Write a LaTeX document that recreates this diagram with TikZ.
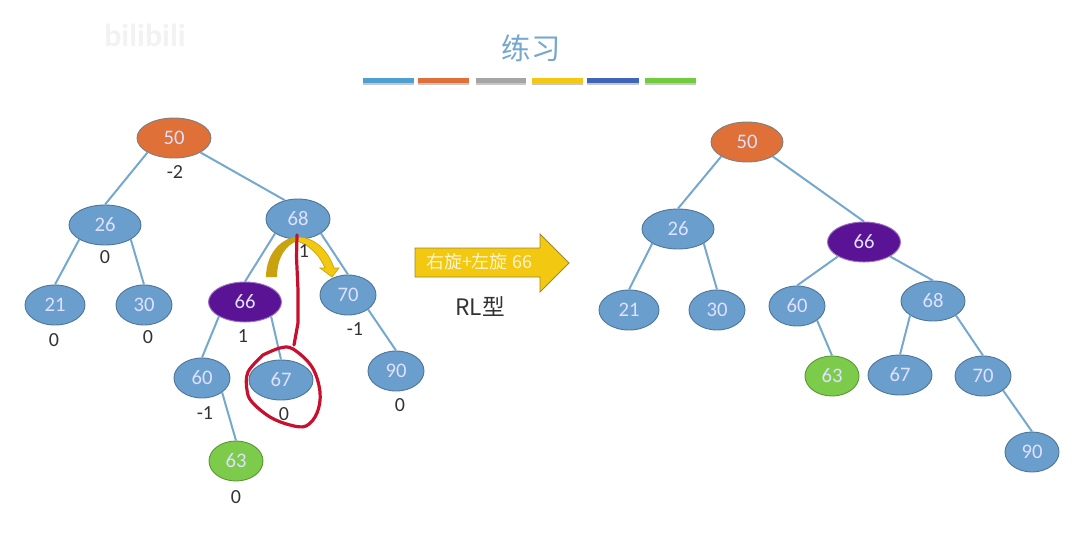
\documentclass[tikz,border=0pt]{standalone}
\usepackage{fontspec}
\setmainfont{Carlito}
\newfontfamily\cjk{Noto Sans CJK SC}
\usetikzlibrary{shapes.geometric}
\definecolor{nodeblue}{HTML}{6A9FCD}
\definecolor{edgeblue}{HTML}{74A8CF}
\definecolor{rootorange}{HTML}{DE7038}
\definecolor{deeppurple}{HTML}{5B1396}
\definecolor{leafgreen}{HTML}{7CCB4A}
\definecolor{gold}{HTML}{F2C811}
\definecolor{darkgold}{HTML}{C9A20F}
\definecolor{inkred}{HTML}{C8102E}
\tikzset{
  x=0.75pt,y=-0.75pt,
  treenode/.style={ellipse,inner sep=0pt,draw=black!25!nodeblue,line width=0.7pt,fill=nodeblue,text=white!88!blue,font=\fontsize{15.5}{15.5}\selectfont},
  orangenode/.style={treenode,fill=rootorange,draw=black!50!white},
  purplenode/.style={treenode,fill=deeppurple,draw=white!40!deeppurple},
  greennode/.style={treenode,fill=leafgreen,draw=black!25!leafgreen},
  edgeline/.style={draw=edgeblue,line width=1.5pt},
  balance/.style={font=\fontsize{15}{15}\selectfont,text=black!80},
  ribbon/.style={line width=3.6pt},
  ribbonshade/.style={line width=2pt,draw=black!22},
  redpen/.style={draw=inkred,line width=2.4pt,line cap=round,line join=round}
}
\newcommand{\tn}[6][treenode]{\node[#1,minimum width=#5*0.75pt,minimum height=#6*0.75pt] (#2) at (#3) {#4};}
\begin{document}
\begin{tikzpicture}
\useasboundingbox (0,0) rectangle (1074,532);
% watermark
\node[text=black!5,font=\bfseries\fontsize{24}{24}\selectfont] (mark) at (145,35) {bilibili};
% title
\node[text=edgeblue,font=\cjk\fontsize{22}{22}\selectfont] (title) at (531,48) {练习};
\foreach \a/\b/\c in {363/414/4F9FCF,418/469/E0703A,476/526/A5A5A5,532/583/F2C811,587/639/3F66B5,645/696/70CC3C}{
  \definecolor{barc}{HTML}{\c}
  \draw[ribbonshade] (\a,83.5) -- (\b,83.5);
  \draw[ribbon,draw=barc] (\a,80.5) -- (\b,80.5);
}
% left tree
\tn[orangenode]{la}{174,138}{50}{74}{40}
\tn{lb}{105,225}{26}{72}{40}
\tn{lc}{298,219}{68}{64}{40}
\tn{ld}{55,305}{21}{60}{40}
\tn{le}{144,305}{30}{56}{40}
\tn[purplenode]{lf}{245,302}{66}{73}{40}
\tn{lg}{348,295}{70}{56}{40}
\tn{lh}{202,378}{60}{56}{40}
\tn{li}{281,380}{67}{64}{40}
\tn{lj}{396,371}{90}{56}{40}
\tn[greennode]{lk}{236,461}{63}{54}{40}
\draw[edgeline] (la.south west) -- (lb.north);
\draw[edgeline] (la.south east) -- (lc.125);
\foreach \p/\q in {lb/ld,lc/lf,lf/lh}{\draw[edgeline] (\p.south west) -- (\q.north);}
\foreach \p/\q in {lb/le,lc/lg,lf/li,lg/lj,lh/lk}{\draw[edgeline] (\p.south east) -- (\q.north);}
% curved rotation arrows
\fill[darkgold] (266,277) .. controls (266,255) and (280,238) .. (297,237) -- (298,241) .. controls (286,244) and (277,258) .. (277,277) -- cycle;
\fill[gold,draw=darkgold,line width=0.5pt] (297,237) .. controls (314,237) and (328,250) .. (334,268) -- (339,268) -- (332,277) -- (320,268) -- (325,268) .. controls (320,256) and (310,245) .. (297,241) -- cycle;
% balance factors
\node[balance] (fa) at (175,172) {-2};
\node[balance] (fb) at (105,257) {0};
\node[balance] (fc) at (304,251) {1};
\node[balance] (fd) at (54,340) {0};
\node[balance] (fe) at (148,337) {0};
\node[balance] (ff) at (243,336) {1};
\node[balance] (fg) at (355,329) {-1};
\node[balance] (fh) at (205,413) {-1};
\node[balance] (fi) at (284,414) {0};
\node[balance] (fj) at (400,405) {0};
\node[balance] (fk) at (236,497) {0};
% red pen
\draw[redpen] (297,235) -- (296.5,257) -- (298,290) -- (298,323) -- (294,345);
\draw[redpen] plot[smooth,tension=0.6] coordinates {(263,355) (248,372) (247,390) (252,402) (270,417) (290,425) (306,426) (317,413) (320,392) (312,367) (293,349) (280,348) (263,355)};
% big arrow
\fill[gold,draw=black!30!gold!70!gray,line width=0.7pt] (415,248) -- (540,248) -- (540,234) -- (569,263) -- (540,292) -- (540,277) -- (415,277) -- cycle;
\node[text=white!80!gold,font=\cjk\fontsize{13.5}{14}\selectfont] (op) at (479,262) {右旋+左旋 66};
\node[text=black!80,font=\cjk\fontsize{17}{17}\selectfont] (rl) at (480,307) {RL型};
% right tree
\tn[orangenode]{ra}{747,142}{50}{72}{40}
\tn{rb}{678,229}{26}{72}{40}
\tn[purplenode]{rc}{864,242}{66}{73}{40}
\tn{rd}{629,310}{21}{60}{40}
\tn{re}{717,310}{30}{56}{40}
\tn{rf}{797,306}{60}{56}{40}
\tn{rg}{933,301}{68}{64}{40}
\tn[greennode]{rh}{832,376}{63}{54}{40}
\tn{ri}{900,375}{67}{64}{40}
\tn{rj}{983,376}{70}{56}{40}
\tn{rk}{1032,452}{90}{54}{40}
\foreach \p/\q in {ra/rb,rb/rd,rc/rf,rg/ri}{\draw[edgeline] (\p.south west) -- (\q.north);}
\foreach \p/\q in {ra/rc,rb/re,rc/rg,rf/rh,rg/rj,rj/rk}{\draw[edgeline] (\p.south east) -- (\q.north);}
\end{tikzpicture}
\end{document}
